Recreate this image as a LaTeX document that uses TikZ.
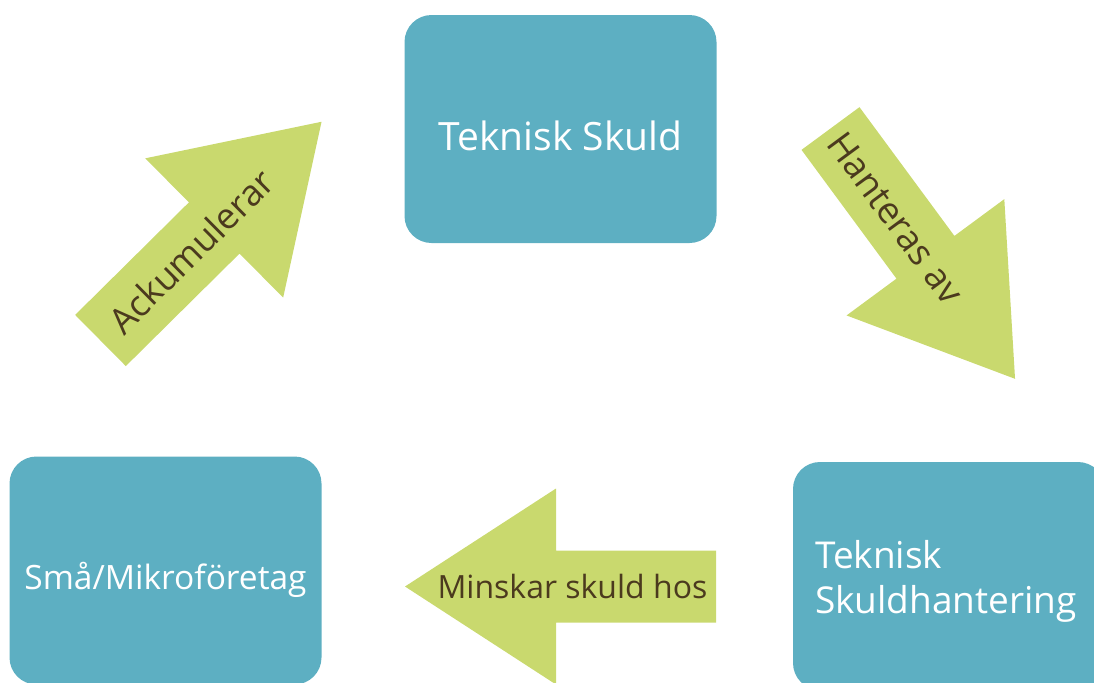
\documentclass[tikz,border=0pt]{standalone}
\usepackage{fontspec}
\setmainfont{Open Sans}

\definecolor{blagron}{RGB}{93,175,194}
\definecolor{limegron}{RGB}{201,217,110}
\definecolor{brun}{RGB}{75,58,30}

\tikzset{
  ruta/.style={rectangle, rounded corners=13.5pt, fill=blagron,
    minimum width=156pt, minimum height=114pt, inner sep=0pt},
  rutatext/.style={text=white, inner sep=0pt},
  piltext/.style={text=brun, inner sep=0pt, font=\fontsize{16}{19}\selectfont},
  blockpil/.pic={
    \fill[limegron] (0,-36) -- (160,-36) -- (160,-98) -- (311,0)
      -- (160,98) -- (160,36) -- (0,36) -- cycle;
  }
}

\begin{document}
\begin{tikzpicture}[x=0.5pt, y=-0.5pt]
    % Ram
    \useasboundingbox (0,0) rectangle (1094,682);
    \clip (0,0) rectangle (1094,682);

    % Rutor
    \node[ruta] (skuld) at (560.5,129) {};
    \node[ruta] (foretag) at (165.5,570.5) {};
    \node[ruta] (hantering) at (949,576) {};

    % Texter i rutorna
    \node[rutatext, anchor=base, font=\fontsize{19.5}{23}\selectfont]
      (skuldtext) at ([yshift=-10.5pt]skuld.center) {Teknisk Skuld};
    \node[rutatext, anchor=base, font=\fontsize{16.75}{20}\selectfont]
      (foretagtext) at ([yshift=-9.25pt]foretag.center) {Små/Mikroföretag};
    \node[rutatext, align=left, font=\fontsize{18.5}{22.5}\selectfont]
      (hanteringtext) at ([xshift=-1.5pt, yshift=-2.5pt]hantering.center) {Teknisk\\Skuldhantering};

    % Pilar
    \pic[rotate=44.7] at (100.5,340.5) {blockpil};
    \node[piltext, rotate=44.7, font=\fontsize{18}{21}\selectfont]
      (ackumulerar) at (191,251) {Ackumulerar};

    \pic[rotate=-53.6] at (830.5,128.5) {blockpil};
    \node[piltext, rotate=-53.6, font=\fontsize{18.2}{21}\selectfont]
      (hanteras) at (896,218) {Hanteras av};

    \pic[rotate=180] at (716,586.5) {blockpil};
    \node[piltext] (minskar) at (572.5,586.5) {Minskar skuld hos};
\end{tikzpicture}
\end{document}
